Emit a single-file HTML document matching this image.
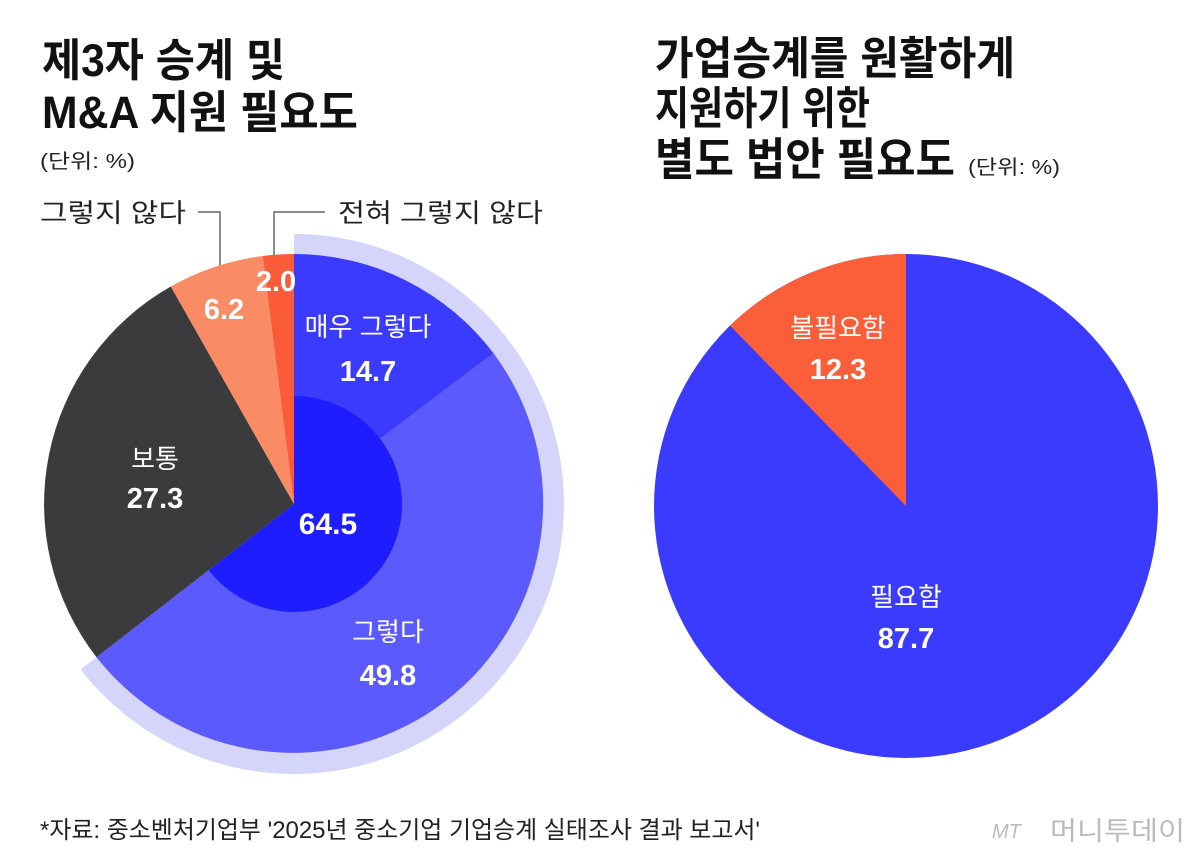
<!DOCTYPE html>
<html><head><meta charset="utf-8"><style>
body{margin:0;background:#fff;}
svg{display:block;font-family:"Liberation Sans","Noto Sans CJK KR",sans-serif;}
</style></head><body>
<svg width="1200" height="855" viewBox="0 0 1200 855">
<rect width="1200" height="855" fill="#fff"/>
<g font-weight="bold" font-size="45" fill="#111">
<text x="42" y="76" textLength="243" lengthAdjust="spacingAndGlyphs">제3자 승계 및</text>
<text x="42" y="128" textLength="316" lengthAdjust="spacingAndGlyphs">M&amp;A 지원 필요도</text>
<text x="655" y="74" textLength="360" lengthAdjust="spacingAndGlyphs">가업승계를 원활하게</text>
<text x="655" y="124" textLength="215" lengthAdjust="spacingAndGlyphs">지원하기 위한</text>
<text x="655" y="175" textLength="300" lengthAdjust="spacingAndGlyphs">별도 법안 필요도</text>
</g>
<text x="40" y="168" font-size="20" fill="#222" textLength="95" lengthAdjust="spacingAndGlyphs">(단위: %)</text>
<text x="968" y="174" font-size="20" fill="#222" textLength="92" lengthAdjust="spacingAndGlyphs">(단위: %)</text>
<text x="40" y="222" font-size="26" fill="#222" textLength="146" lengthAdjust="spacingAndGlyphs">그렇지 않다</text>
<text x="338" y="222" font-size="26" fill="#222" textLength="205" lengthAdjust="spacingAndGlyphs">전혀 그렇지 않다</text>
<polyline points="198,212 220,212 220,268" fill="none" stroke="#666" stroke-width="1.5"/>
<polyline points="325,212 274,212 274,258" fill="none" stroke="#666" stroke-width="1.5"/>
<path d="M294,504 L294,234 A270,270 0 1 1 80.6,669.5 Z" fill="#d5d5fb"/>
<path d="M294,504 L294,254 A250,250 0 0 1 493.5,353.3 Z" fill="#3b3bff"/>
<path d="M294,504 L493.5,353.3 A250,250 0 0 1 96.5,657.2 Z" fill="#5a5aff"/>
<path d="M294,504 L96.5,657.2 A250,250 0 0 1 170.8,286.5 Z" fill="#3b3b3d"/>
<path d="M294,504 L170.8,286.5 A250,250 0 0 1 262.7,256 Z" fill="#f98c64"/>
<path d="M294,504 L262.7,256 A250,250 0 0 1 294,254 Z" fill="#fb5b39"/>
<path d="M294,504 L294,396 A108,108 0 1 1 208.7,570.2 Z" fill="#1d1dff"/>
<g fill="#fff" text-anchor="middle">
<text x="368" y="336" font-size="26">매우 그렇다</text>
<text x="368" y="381" font-size="29" font-weight="bold">14.7</text>
<text x="328" y="534" font-size="30" font-weight="bold">64.5</text>
<text x="388" y="641" font-size="26">그렇다</text>
<text x="388" y="685" font-size="29" font-weight="bold">49.8</text>
<text x="155" y="468" font-size="26">보통</text>
<text x="155" y="508" font-size="29" font-weight="bold">27.3</text>
<text x="224" y="319" font-size="29" font-weight="bold">6.2</text>
<text x="276" y="291" font-size="29" font-weight="bold">2.0</text>
</g>
<circle cx="906" cy="506" r="252" fill="#3b3bff"/>
<path d="M906,506 L906,254 A252,252 0 0 0 730,325.6 Z" fill="#fb5f3a"/>
<g fill="#fff" text-anchor="middle">
<text x="838" y="337" font-size="26">불필요함</text>
<text x="838" y="379" font-size="29" font-weight="bold">12.3</text>
<text x="906" y="606" font-size="26">필요함</text>
<text x="906" y="648" font-size="29" font-weight="bold">87.7</text>
</g>
<text x="40" y="838" font-size="24" fill="#222" textLength="720" lengthAdjust="spacingAndGlyphs">*자료: 중소벤처기업부 '2025년 중소기업 기업승계 실태조사 결과 보고서'</text>
<text x="992" y="838" font-size="20" fill="#bbb" font-style="italic">MT</text>
<text x="1050" y="840" font-size="26" fill="#bbb" textLength="135" lengthAdjust="spacingAndGlyphs">머니투데이</text>
</svg>
</body></html>
